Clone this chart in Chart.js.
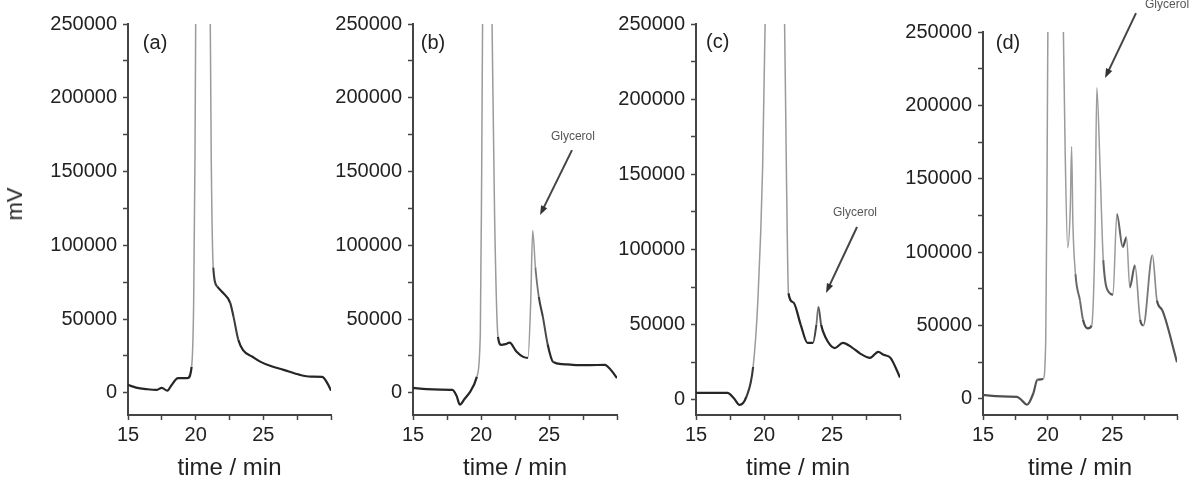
<!DOCTYPE html>
<html lang="en">
<head>
    <meta charset="UTF-8">
    <title>Chromatograms (a)-(d)</title>
    <script src="https://cdn.jsdelivr.net/npm/chart.js"></script>
    <style>
        body {
            margin: 0;
            background: #fff;
            font-family: "Liberation Sans", Arial, sans-serif;
        }
        .stage {
            position: relative;
            width: 1194px;
            height: 483px;
            overflow: hidden;
        }
        canvas {
            position: absolute;
            top: 0;
        }
        .ylabel {
            position: absolute;
            left: 15px;
            top: 204px;
            transform: translate(-50%, -50%) rotate(-90deg);
            font-size: 22px;
            color: #222;
            white-space: nowrap;
        }
    </style>
</head>
<body>
    <div class="stage">
        <canvas id="chartA" width="340" height="483" style="left:0px"></canvas>
        <canvas id="chartB" width="290" height="483" style="left:335px"></canvas>
        <canvas id="chartC" width="300" height="483" style="left:608px"></canvas>
        <canvas id="chartD" width="296" height="483" style="left:898px"></canvas>
        <div class="ylabel">mV</div>
    </div>

    <script>
        // values (time in min, signal in mV)
        const timeA = [15, 15.6, 16.4, 17.1, 17.5, 17.9, 18.2, 18.7, 19.4, 19.7, 19.85, 19.95, 20.05, 20.5, 21.0, 21.15, 21.3, 21.6, 22.0, 22.55, 22.8, 23.15, 23.5, 24.2, 24.8, 25.6, 26.5, 27.7, 28.5, 29.35, 29.8, 30];
        const signalA = [5400, 3600, 2500, 2000, 3400, 1500, 5000, 10000, 10000, 17600, 60000, 160000, 330000, 500000, 350000, 160000, 85000, 72000, 68000, 61000, 51500, 36000, 29000, 24500, 21000, 18000, 15600, 12200, 11000, 10800, 5400, 1500];

        const timeB = [15, 16, 17, 17.9, 18.2, 18.45, 18.8, 19.2, 19.7, 19.95, 20.05, 20.15, 20.5, 20.8, 21.0, 21.25, 21.5, 21.8, 22.1, 22.6, 23.1, 23.45, 23.65, 23.8, 24.0, 24.25, 24.55, 24.9, 25.3, 26.0, 26.75, 28.0, 29.1, 29.6, 30];
        const signalB = [3400, 2500, 2200, 2000, -2000, -8000, -4000, 700, 11000, 40000, 150000, 300000, 450000, 260000, 120000, 38000, 32500, 33000, 34000, 28000, 24400, 23700, 60000, 110000, 85000, 65000, 51500, 33000, 21000, 19500, 19000, 18800, 19000, 15000, 10000];

        const timeC = [15, 16, 17.3, 17.8, 18.2, 18.7, 19.2, 19.55, 19.9, 20.1, 20.8, 21.5, 21.65, 21.8, 22.15, 22.7, 23.2, 23.6, 23.85, 24.0, 24.2, 24.5, 25.2, 25.8, 26.45, 27.05, 27.8, 28.4, 28.8, 29.3, 30];
        const signalC = [4700, 4700, 4700, 1000, -3300, 2000, 22000, 66500, 155000, 260000, 450000, 260000, 150000, 71000, 65000, 50000, 38000, 38000, 50000, 62000, 50000, 42000, 34500, 38000, 35000, 31000, 28000, 32000, 30000, 28000, 15000];

        const timeD = [15, 16, 17, 17.63, 18.0, 18.4, 18.9, 19.2, 19.65, 19.85, 19.95, 20.05, 20.6, 21.2, 21.35, 21.55, 21.75, 21.85, 21.95, 22.15, 22.5, 22.73, 23.1, 23.4, 23.66, 23.8, 24.05, 24.3, 24.8, 25.05, 25.35, 25.8, 26.1, 26.35, 26.75, 27.15, 27.4, 28.1, 28.45, 28.85, 30];
        const signalD = [2700, 1800, 1500, 1400, -1000, -4000, 4000, 13000, 13500, 40000, 150000, 300000, 450000, 260000, 170000, 103000, 130000, 172000, 120000, 85000, 67000, 54000, 48000, 50000, 113000, 212000, 158000, 94500, 72000, 71000, 126000, 103500, 110000, 76000, 91000, 54000, 50000, 98000, 67000, 60600, 25000];

        const panelLetters = ['(a)', '(b)', '(c)', '(d)'];
        const xTicks = [15, 20, 25];
        const yTicks = [0, 50000, 100000, 150000, 200000, 250000];

        const FONT = '"Liberation Sans", Arial, sans-serif';
        const INK = '#222';
        const AXIS = '#444';

        // draws the panel letter and the "Glycerol" arrow in data coordinates
        const notesPlugin = {
            id: 'notes',
            afterDraw(chart, args, opts) {
                const ctx = chart.ctx;
                const xs = chart.scales.x, ys = chart.scales.y;
                ctx.save();
                ctx.fillStyle = INK;
                ctx.font = '20px ' + FONT;
                ctx.textAlign = 'center';
                ctx.textBaseline = 'middle';
                ctx.fillText(opts.letter, xs.getPixelForValue(opts.letterAt[0]), ys.getPixelForValue(opts.letterAt[1]));

                if (opts.arrow) {
                    const a = opts.arrow;
                    ctx.fillStyle = '#555';
                    ctx.font = '12px ' + FONT;
                    ctx.fillText('Glycerol', xs.getPixelForValue(a.text[0]), ys.getPixelForValue(a.text[1]));

                    const x0 = xs.getPixelForValue(a.from[0]), y0 = ys.getPixelForValue(a.from[1]);
                    const x1 = xs.getPixelForValue(a.to[0]), y1 = ys.getPixelForValue(a.to[1]);
                    const ang = Math.atan2(y1 - y0, x1 - x0);
                    const head = 10;
                    ctx.strokeStyle = '#444';
                    ctx.fillStyle = '#333';
                    ctx.lineWidth = 2;
                    ctx.beginPath();
                    ctx.moveTo(x0, y0);
                    ctx.lineTo(x1 - Math.cos(ang) * head * 0.8, y1 - Math.sin(ang) * head * 0.8);
                    ctx.stroke();
                    ctx.beginPath();
                    ctx.moveTo(x1, y1);
                    ctx.lineTo(x1 - head * Math.cos(ang - 0.35), y1 - head * Math.sin(ang - 0.35));
                    ctx.lineTo(x1 - head * Math.cos(ang + 0.35), y1 - head * Math.sin(ang + 0.35));
                    ctx.closePath();
                    ctx.fill();
                }
                ctx.restore();
            }
        };

        // steep parts of the trace look thinner and lighter in the scan,
        // so fade the colour with the on-screen slope of each segment
        function steepness(ctx) {
            const dx = Math.abs(ctx.p1.x - ctx.p0.x);
            const dy = Math.abs(ctx.p1.y - ctx.p0.y);
            const r = dy / Math.max(dx, 0.01);
            return Math.min(Math.max((r - 3) / 9, 0), 1);
        }
        function shade(base, c) {
            const t = steepness(c);
            const g = Math.round(base + (155 - base) * t);
            return `rgb(${g},${g},${g})`;
        }

        function makePanel(id, times, signals, p) {
            const points = times.map((t, i) => ({ x: t, y: signals[i] }));
            return new Chart(document.getElementById(id), {
                type: 'line',
                data: {
                    datasets: [{
                        data: points,
                        borderColor: '#262626',
                        borderWidth: 2.2,
                        pointRadius: 0,
                        cubicInterpolationMode: 'monotone',
                        segment: {
                            borderColor: c => shade(p.ink, c),
                            borderWidth: c => 2.2 - 0.7 * steepness(c)
                        }
                    }]
                },
                options: {
                    responsive: false,
                    animation: false,
                    layout: { padding: { top: p.top, right: p.right, left: 0, bottom: 0 } },
                    plugins: {
                        legend: { display: false },
                        tooltip: { enabled: false },
                        notes: { letter: p.letter, letterAt: p.letterAt, arrow: p.arrow }
                    },
                    scales: {
                        x: {
                            type: 'linear',
                            min: 15,
                            max: 30,
                            afterFit: s => { s.height = 483 - 415; },
                            border: { display: true, color: AXIS, width: 2 },
                            grid: { display: true, drawOnChartArea: false, tickLength: 5, color: AXIS, tickWidth: 1.5 },
                            ticks: {
                                stepSize: 2.5,
                                autoSkip: false,
                                maxRotation: 0,
                                padding: 3,
                                color: INK,
                                font: { family: FONT, size: 20 },
                                callback: v => xTicks.includes(v) ? String(v) : ''
                            },
                            title: {
                                display: true,
                                text: 'time / min',
                                color: INK,
                                font: { family: FONT, size: 24 },
                                padding: { top: 0, bottom: 0 }
                            }
                        },
                        y: {
                            type: 'linear',
                            min: p.yMin,
                            max: 250000,
                            afterFit: s => { s.width = p.axisWidth; },
                            // major ticks every 50000 with a minor mark in between
                            afterBuildTicks: s => {
                                s.ticks = [];
                                for (let v = 0; v <= 250000; v += 25000) s.ticks.push({ value: v });
                            },
                            border: { display: true, color: AXIS, width: 2 },
                            grid: { display: true, drawOnChartArea: false, tickLength: 5, color: AXIS, tickWidth: 1.5 },
                            ticks: {
                                autoSkip: false,
                                padding: 6,
                                color: INK,
                                font: { family: FONT, size: 20 },
                                callback: v => yTicks.includes(v) ? String(v) : ''
                            }
                        }
                    }
                },
                plugins: [notesPlugin]
            });
        }

        makePanel('chartA', timeA, signalA, {
            top: 24, right: 9, axisWidth: 128, yMin: -15000, ink: 38,
            letter: panelLetters[0], letterAt: [17.0, 237000]
        });
        makePanel('chartB', timeB, signalB, {
            top: 24, right: 8, axisWidth: 78, yMin: -15000, ink: 38,
            letter: panelLetters[1], letterAt: [16.47, 237000],
            arrow: { text: [26.76, 173300], from: [26.69, 164500], to: [24.34, 120500] }
        });
        makePanel('chartC', timeC, signalC, {
            top: 24, right: 8, axisWidth: 88, yMin: -10000, ink: 38,
            letter: panelLetters[2], letterAt: [16.6, 237400],
            arrow: { text: [26.69, 124400], from: [26.84, 115000], to: [24.56, 71200] }
        });
        makePanel('chartD', timeD, signalD, {
            top: 32, right: 17, axisWidth: 85, yMin: -11000, ink: 80,
            letter: panelLetters[3], letterAt: [16.93, 242400],
            arrow: { text: [29.23, 268300], from: [26.83, 262900], to: [24.44, 218600] }
        });
    </script>
</body>
</html>
